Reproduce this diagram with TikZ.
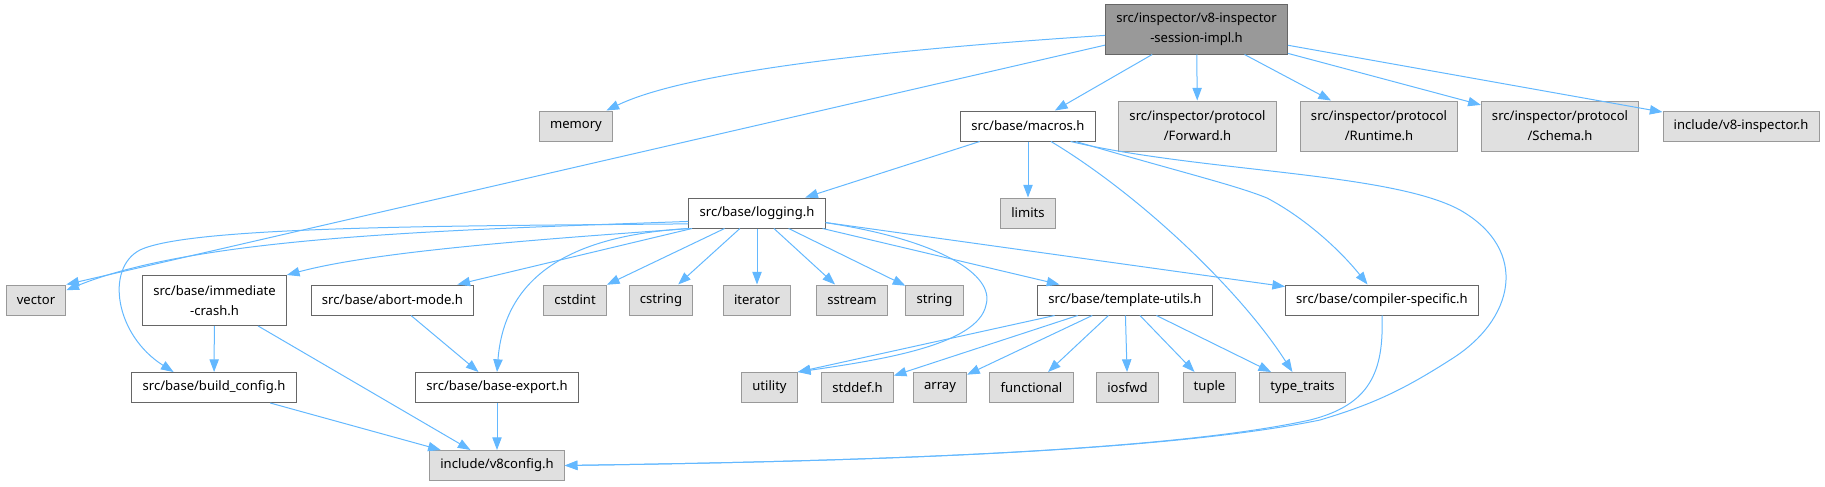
\documentclass[tikz,border=0pt]{standalone}
\usepackage{fontspec}
\setmainfont{Noto Sans}
\usetikzlibrary{arrows.meta,positioning}
\definecolor{edgeblue}{HTML}{63B8FF}
\definecolor{rim}{HTML}{666666}
\definecolor{dimrim}{HTML}{999999}
\definecolor{shade}{HTML}{E0E0E0}
\definecolor{headfill}{HTML}{999999}
\tikzset{
  box/.style={rectangle, draw=rim, fill=white, line width=0.75pt, align=center,
              inner xsep=8pt, inner ysep=0pt, minimum height=22.5pt,
              font=\fontsize{9.8}{15}\selectfont},
  tallbox/.style={box, minimum height=37.5pt},
  sysbox/.style={box, draw=dimrim, fill=shade},
  tallsys/.style={sysbox, minimum height=37.5pt},
  rootbox/.style={tallbox, fill=headfill},
  flow/.style={-{Triangle[length=9.5pt,width=7pt]}, draw=edgeblue, line width=0.75pt}
}
\begin{document}
\begin{tikzpicture}[x=0.75pt, y=-0.75pt]
  \useasboundingbox (0,0) rectangle (1825,486);
  % top
  \node[rootbox] (root) at (1196.5,29) {src/inspector/v8-inspector\\-session-impl.h};
  % direct includes
  \node[sysbox] (memory) at (576,126) {memory};
  \node[box] (macros) at (1028,126) {src/base/macros.h};
  \node[tallsys] (fwd) at (1197.5,126) {src/inspector/protocol\\/Forward.h};
  \node[tallsys] (runtime) at (1379,126) {src/inspector/protocol\\/Runtime.h};
  \node[tallsys] (schema) at (1560,126) {src/inspector/protocol\\/Schema.h};
  \node[sysbox] (v8insp) at (1741,126) {include/v8-inspector.h};
  \node[box] (logging) at (757,213) {src/base/logging.h};
  \node[sysbox] (limits) at (1028,213) {limits};
  % middle row
  \node[sysbox] (vector) at (36,300) {vector};
  \node[tallbox] (immcrash) at (214.5,300.5) {src/base/immediate\\-crash.h};
  \node[box] (abortmode) at (392.5,300) {src/base/abort-mode.h};
  \node[sysbox] (cstdint) at (575,300) {cstdint};
  \node[sysbox] (cstring) at (661,300) {cstring};
  \node[sysbox] (iterator) at (757,300) {iterator};
  \node[sysbox] (sstream) at (852,300) {sstream};
  \node[sysbox] (string) at (934.5,300) {string};
  \node[box] (templ) at (1125,300) {src/base/template-utils.h};
  \node[box] (compspec) at (1382,300) {src/base/compiler-specific.h};
  % lower row
  \node[box] (buildcfg) at (214,387.5) {src/base/build\_config.h};
  \node[box] (baseexp) at (497,387.5) {src/base/base-export.h};
  \node[sysbox] (utility) at (769.5,387.5) {utility};
  \node[sysbox] (stddef) at (857.5,387.5) {stddef.h};
  \node[sysbox] (array) at (940,387.5) {array};
  \node[sysbox] (functional) at (1031.5,387.5) {functional};
  \node[sysbox] (iosfwd) at (1127.5,387.5) {iosfwd};
  \node[sysbox] (tuple) at (1209.5,387.5) {tuple};
  \node[sysbox] (typetraits) at (1302.5,387.5) {type\_traits};
  \node[sysbox] (v8config) at (497,465.5) {include/v8config.h};

  % straight edges
  \foreach \t in {macros,fwd,runtime,schema,v8insp} \draw[flow] (root) -- (\t);
  \foreach \t in {logging,limits} \draw[flow] (macros) -- (\t);
  \foreach \t in {abortmode,cstdint,cstring,iterator,sstream,string,templ,compspec}
    \draw[flow] (logging) -- (\t);
  \foreach \t in {stddef,array,functional,iosfwd,tuple,typetraits} \draw[flow] (templ) -- (\t);
  \draw[flow] (templ) -- (utility.north east);
  \foreach \t in {buildcfg,v8config} \draw[flow] (immcrash) -- (\t);
  \draw[flow] (abortmode) -- (baseexp);
  \draw[flow] (buildcfg) -- (v8config);
  \draw[flow] (baseexp) -- (v8config);
  \draw[flow] (root.190) -- (vector.north east);

  % curved edges
  \draw[flow] (root.184) .. controls (850,52) and (680,75) .. (memory.27);
  \draw[flow] (macros.326) .. controls (1140,195) and (1240,290) .. (typetraits.123);
  \draw[flow] (macros.342) .. controls (1180,172) and (1235,185) .. (1267,198)
    .. controls (1305,218) and (1340,250) .. (compspec.133);
  \draw[flow] (macros.340) .. controls (1200,172) and (1390,172) .. (1460,210)
    .. controls (1530,250) and (1515,320) .. (1450,360)
    .. controls (1400,392) and (1370,405) .. (1320,420)
    .. controls (1150,455) and (800,462) .. (v8config.east);
  \draw[flow] (compspec.south) .. controls (1384,372) and (1370,405) .. (1310,420)
    .. controls (1150,455) and (800,462) .. (v8config.east);
  \draw[flow] (logging.187) .. controls (450,230) and (200,236) .. (vector.18);
  \draw[flow] (logging.189) .. controls (450,226) and (190,226) .. (140,250)
    .. controls (105,268) and (115,335) .. (buildcfg.159);
  \draw[flow] (logging.193) .. controls (560,238) and (380,250) .. (immcrash.north east);
  \draw[flow] (logging.south west) .. controls (580,235) and (505,270) .. (baseexp.north);
  \draw[flow] (logging.352) .. controls (940,240) and (995,275) .. (986,305)
    .. controls (978,345) and (880,360) .. (utility.north east);
\end{tikzpicture}
\end{document}
